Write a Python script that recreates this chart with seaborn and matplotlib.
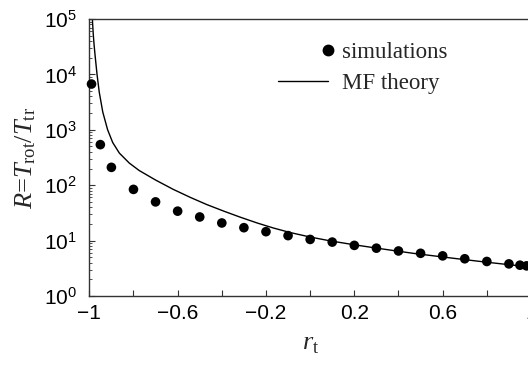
import numpy as np
import pandas as pd
import matplotlib
matplotlib.use("Agg")
import matplotlib.pyplot as plt
import seaborn as sns
from matplotlib.legend_handler import HandlerLine2D
from matplotlib.lines import Line2D
from matplotlib.ticker import LogLocator, LogFormatterSciNotation, NullFormatter

# ---- data ----
sim_r = [-0.99, -0.95, -0.9, -0.8, -0.7, -0.6, -0.5, -0.4, -0.3, -0.2, -0.1,
         0.0, 0.1, 0.2, 0.3, 0.4, 0.5, 0.6, 0.7, 0.8, 0.9, 0.95, 0.98]
sim_R = [6700, 540, 210, 84, 50, 34, 26.7, 20.8, 17.1, 14.5, 12.3,
         10.5, 9.4, 8.2, 7.3, 6.5, 5.9, 5.3, 4.7, 4.2, 3.8, 3.6, 3.5]

mf_r = [-0.988, -0.985, -0.982, -0.978, -0.974, -0.965, -0.955, -0.939, -0.917,
        -0.894, -0.864, -0.819, -0.774, -0.70, -0.62, -0.54, -0.468, -0.39,
        -0.318, -0.24, -0.167, -0.091, 0.0, 0.09, 0.2, 0.317, 0.467, 0.65,
        0.8, 0.98, 1.0]
mf_R = [141000, 83000, 52500, 33100, 22400, 10000, 4790, 2090, 1000,
        589, 380, 251, 184, 124, 84.1, 59.6, 44.7, 33.9,
        26.6, 20.8, 16.9, 14.0, 11.6, 9.9, 8.4, 7.16, 5.89, 4.79,
        4.07, 3.39, 3.31]

x_ticks = [-1, -0.8, -0.6, -0.4, -0.2, 0, 0.2, 0.4, 0.6, 0.8, 1]
x_ticklabels = ["\u22121", "", "\u22120.6", "", "\u22120.2", "", "0.2", "", "0.6", "", "1"]

sim_df = pd.DataFrame({"r": sim_r, "R": sim_R})
mf_df = pd.DataFrame({"r": mf_r, "R": mf_R})

sns.set_style("ticks")
plt.rcParams["font.family"] = ["Liberation Sans", "DejaVu Sans"]
plt.rcParams["mathtext.fontset"] = "custom"
plt.rcParams["mathtext.rm"] = "Liberation Serif"
plt.rcParams["mathtext.it"] = "Liberation Serif:italic"
plt.rcParams["mathtext.default"] = "regular"

fig = plt.figure(figsize=(5.28, 3.67), dpi=100)
ax = fig.add_axes([89.3 / 528, 1 - 296 / 367, (531 - 89.3) / 528, (296 - 19) / 367])

sns.lineplot(data=mf_df, x="r", y="R", ax=ax, color="black", lw=1.0,
             sort=False, estimator=None)
sns.scatterplot(data=sim_df, x="r", y="R", ax=ax, color="black", s=48,
                edgecolor="none", zorder=3, clip_on=False)

ax.set_yscale("log")
ax.set_xlim(-1, 1)
ax.set_ylim(1, 1e5)
ax.yaxis.set_major_locator(LogLocator(base=10, numticks=10))
ax.yaxis.set_minor_locator(LogLocator(base=10, subs=np.arange(2, 10), numticks=20))
ax.yaxis.set_major_formatter(LogFormatterSciNotation())
ax.yaxis.set_minor_formatter(NullFormatter())
ax.set_xticks(x_ticks)
ax.set_xticklabels(x_ticklabels)

spine_col = "#333333"
for s in ax.spines.values():
    s.set_color(spine_col)
    s.set_linewidth(1.0)
ax.tick_params(axis="both", which="major", direction="in", length=4, width=0.8,
               color=spine_col, labelsize=15, labelcolor="black")
ax.tick_params(axis="x", which="major", pad=6)
ax.tick_params(axis="y", which="major", pad=9)
ax.tick_params(axis="y", which="minor", direction="in", length=2.2, width=0.6,
               color=spine_col)
ax.tick_params(axis="x", which="minor", bottom=False)

ax.set_xlabel(r"$\mathit{r}_{\mathrm{t}}$", fontsize=19, labelpad=6)
ax.set_ylabel(r"$\mathit{R}$=$\mathit{T}_{\mathrm{rot}}$/$\mathit{T}_{\mathrm{tr}}$",
              fontsize=19, labelpad=4, family="Liberation Serif")


class RightMarkerHandler(HandlerLine2D):
    def create_artists(self, legend, orig_handle, xdescent, ydescent,
                       width, height, fontsize, trans):
        ydata = np.full(1, (height - ydescent) / 2.0)
        mk = Line2D([width - xdescent], ydata)
        self.update_prop(mk, orig_handle, legend)
        mk.set_transform(trans)
        return [mk]


h_sim = Line2D([], [], ls="none", marker="o", color="black", markersize=7.5)
h_mf = Line2D([], [], ls="-", color="black", lw=1.0)
leg = ax.legend([h_sim, h_mf], ["simulations", "MF theory"],
                loc="upper left", bbox_to_anchor=(278 / 528, 1 - 42 / 367),
                bbox_transform=fig.transFigure, frameon=False,
                borderpad=0, borderaxespad=0, handlelength=2.2,
                handletextpad=0.6, labelspacing=0.45,
                handler_map={h_sim: RightMarkerHandler()},
                prop={"family": "Liberation Serif", "size": 16.5})

fig.savefig("out.png", dpi=100)
